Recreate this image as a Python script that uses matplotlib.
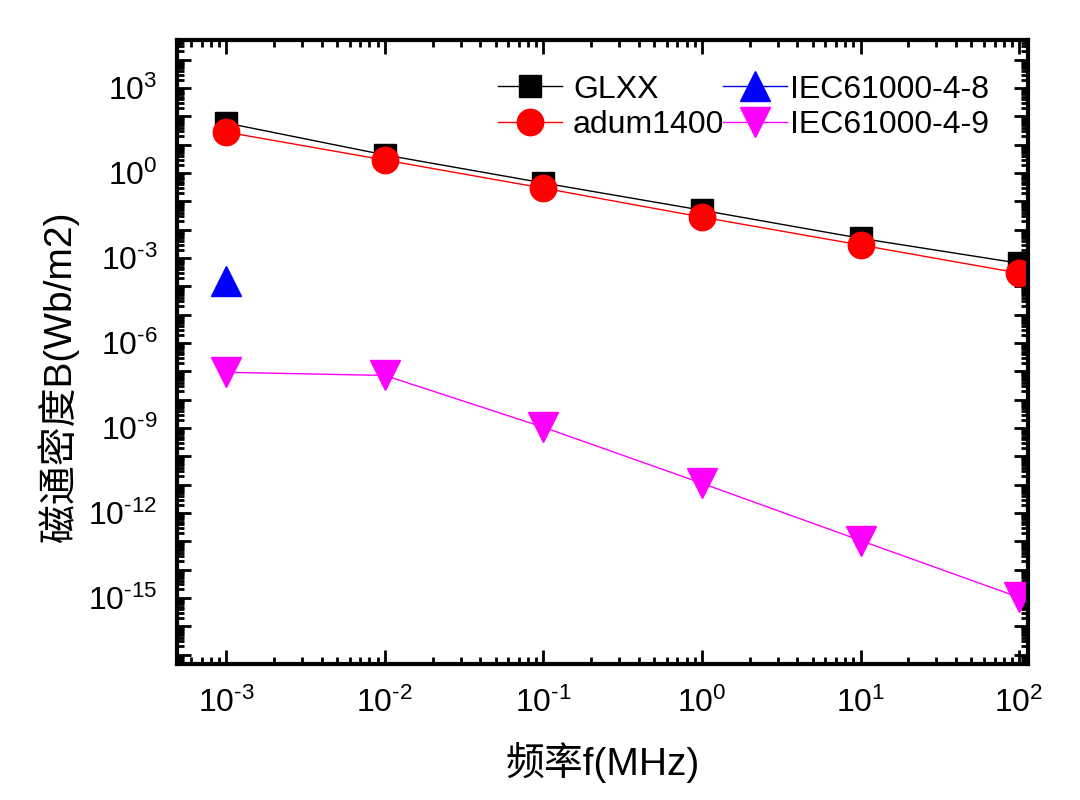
import matplotlib
matplotlib.use("Agg")
import matplotlib.pyplot as plt
from matplotlib.ticker import LogLocator, FuncFormatter, NullFormatter
import numpy as np

plt.rcParams['font.family'] = ['Liberation Sans', 'Noto Sans CJK SC', 'DejaVu Sans']
plt.rcParams['mathtext.fontset'] = 'custom'
plt.rcParams['mathtext.rm'] = 'Liberation Sans'
plt.rcParams['mathtext.it'] = 'Liberation Sans'
plt.rcParams['axes.unicode_minus'] = False

freq = [1e-3, 1e-2, 1e-1, 1e0, 1e1, 1e2]
glxx = [5.9e1, 4.4e0, 4.5e-1, 4.9e-2, 5.0e-3, 6.6e-4]
adum1400 = [2.8e1, 2.9e0, 2.95e-1, 2.8e-2, 2.9e-3, 2.95e-4]
iec_4_8_freq = [1e-3]
iec_4_8 = [1.5e-4]
iec_4_9 = [9.3e-8, 7.2e-8, 1.07e-9, 1.12e-11, 1.07e-13, 1.05e-15]

fig = plt.figure(figsize=(10.8, 8.0), dpi=100)
ax = fig.add_axes([0.164, 0.17, 0.788, 0.78])

h1, = ax.plot(freq, glxx, '-', color='black', lw=1.0, marker='s', ms=16,
              mfc='black', mec='black', label='GLXX')
h2, = ax.plot(freq, adum1400, '-', color='red', lw=1.0, marker='o', ms=19,
              mfc='red', mec='red', label='adum1400')
h3, = ax.plot(iec_4_8_freq, iec_4_8, '-', color='blue', lw=1.0, marker='^', ms=21,
              mfc='blue', mec='blue', label='IEC61000-4-8')
h4, = ax.plot(freq, iec_4_9, '-', color='#ff00ff', lw=1.0, marker='v', ms=21,
              mfc='#ff00ff', mec='#ff00ff', label='IEC61000-4-9')

ax.set_xscale('log')
ax.set_yscale('log')
ax.set_xlim(10**-3.31, 10**2.057)
ax.set_ylim(10**-17.33, 10**4.70)

ax.xaxis.set_major_locator(LogLocator(base=10, numticks=20))
ax.xaxis.set_minor_locator(LogLocator(base=10, subs=np.arange(2, 10), numticks=50))
ax.yaxis.set_major_locator(LogLocator(base=10, numticks=40))
ax.yaxis.set_minor_locator(LogLocator(base=10, subs=np.arange(2, 10), numticks=400))

def lab(e):
    s = str(e).replace('-', '\u2010')
    return r'$\mathregular{10^{%s}}$' % s

def xfmt(v, pos):
    e = int(round(np.log10(v)))
    return lab(e)

def yfmt(v, pos):
    e = int(round(np.log10(v)))
    if e % 3 != 0:
        return ''
    return lab(e)

ax.xaxis.set_major_formatter(FuncFormatter(xfmt))
ax.yaxis.set_major_formatter(FuncFormatter(yfmt))
ax.xaxis.set_minor_formatter(NullFormatter())
ax.yaxis.set_minor_formatter(NullFormatter())

ax.tick_params(which='both', direction='in', top=True, right=True, width=2)
ax.tick_params(which='major', length=10, labelsize=23)
ax.tick_params(axis='x', which='major', pad=17)
ax.tick_params(axis='y', which='major', pad=14)
ax.tick_params(which='minor', length=5)
for s in ax.spines.values():
    s.set_linewidth(3)

ax.set_xlabel('频率f(MHz)', fontsize=28)
ax.xaxis.set_label_coords(0.5, -0.125)
ax.set_ylabel('磁通密度B(Wb/m2)', fontsize=28)
ax.yaxis.set_label_coords(-0.115, 0.46)

leg1 = ax.legend(handles=[h1, h2], loc='upper left', bbox_to_anchor=(0.362, 0.965),
                 frameon=False, fontsize=23, handlelength=2.0,
                 handletextpad=0.35, labelspacing=0.18, borderaxespad=0.0)
ax.add_artist(leg1)
leg2 = ax.legend(handles=[h3, h4], loc='upper left', bbox_to_anchor=(0.627, 0.965),
                 frameon=False, fontsize=23, handlelength=2.0,
                 handletextpad=0.08, labelspacing=0.18, borderaxespad=0.0)

fig.savefig('out.png', dpi=100)
